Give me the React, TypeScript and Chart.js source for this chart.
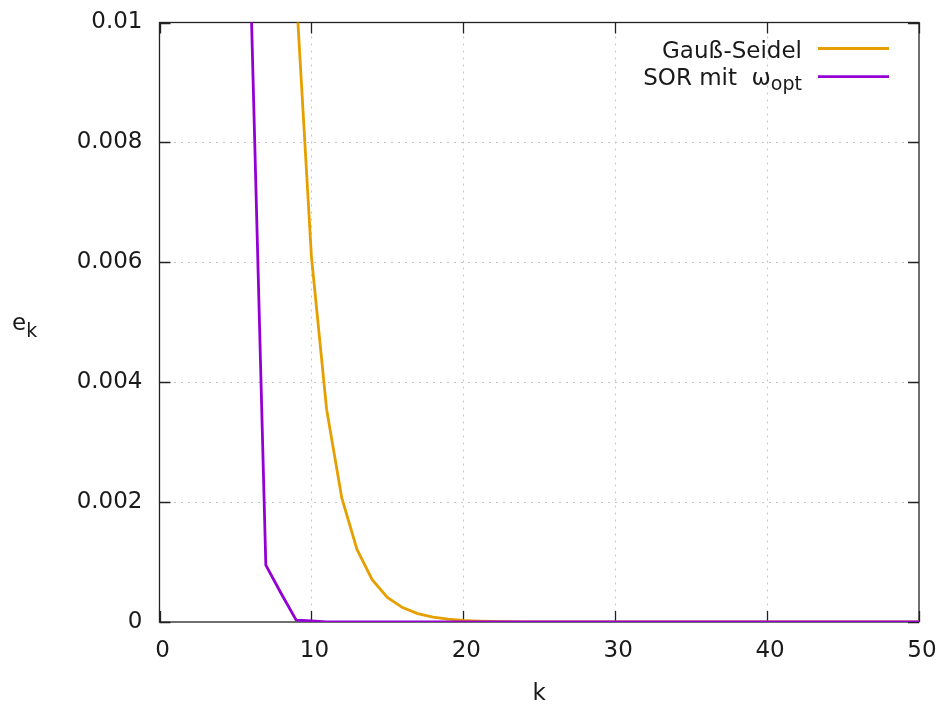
import React, { useEffect, useRef } from "react";
import { Chart, registerables } from "chart.js";

Chart.register(...registerables);

const kValues = [
  1, 2, 3, 4, 5, 6, 7, 8, 9, 10,
  11, 12, 13, 14, 15, 16, 17, 18, 19, 20,
  21, 22, 23, 24, 25, 26, 27, 28, 29, 30,
  31, 32, 33, 34, 35, 36, 37, 38, 39, 40,
  41, 42, 43, 44, 45, 46, 47, 48, 49, 50,
];

const gaussSeidel = [
  0.79, 0.46, 0.27, 0.157, 0.091, 0.053, 0.031, 0.018, 0.0105, 0.0061,
  0.00355, 0.00207, 0.00121, 0.000705, 0.00041, 0.00024, 0.00014, 0.00008, 0.000047, 0.000027,
  0.000016, 0.0000093, 0.0000054, 0.0000031, 0.0000018, 0.0000011, 6e-7, 3.6e-7, 2.1e-7, 1.2e-7,
  7e-8, 4e-8, 2.4e-8, 1.4e-8, 8e-9, 5e-9, 3e-9, 2e-9, 1e-9, 6e-10,
  3e-10, 2e-10, 1e-10, 7e-11, 4e-11, 2e-11, 1e-11, 8e-12, 5e-12, 3e-12,
];

const sorOpt = [
  0.9, 0.5, 0.25, 0.11, 0.042, 0.0106, 0.00095, 0.00048, 0.00003, 0.00002,
  0.000001, 5e-7, 2e-7, 1e-7, 5e-8, 2e-8, 1e-8, 5e-9, 2e-9, 1e-9,
  5e-10, 2e-10, 1e-10, 5e-11, 2e-11, 1e-11, 5e-12, 2e-12, 1e-12, 5e-13,
  2e-13, 1e-13, 5e-14, 2e-14, 1e-14, 5e-15, 2e-15, 1e-15, 5e-16, 2e-16,
  1e-16, 5e-17, 2e-17, 1e-17, 5e-18, 2e-18, 1e-18, 5e-19, 2e-19, 1e-19,
];

const xTickValues = [0, 10, 20, 30, 40, 50];
const xTickLabels = ["0", "10", "20", "30", "40", "50"];
const yTickValues = [0, 0.002, 0.004, 0.006, 0.008, 0.01];
const yTickLabels = ["0", "0.002", "0.004", "0.006", "0.008", "0.01"];

const seriesNames = ["Gauß-Seidel", "SOR mit  ω"];
const seriesSubscripts = ["", "opt"];
const xTitle = "k";
const yTitleMain = "e";
const yTitleSub = "k";

const COLOR_GS = "#e69f00";
const COLOR_SOR = "#9400d3";
const FONT = '"DejaVu Sans", "Liberation Sans", sans-serif';

const framePlugin = {
  id: "gnuFrame",
  beforeDatasetsDraw(chart: any) {
    const { ctx, chartArea: a, scales } = chart;
    ctx.save();
    ctx.strokeStyle = "#222222";
    ctx.lineWidth = 1.3;
    ctx.strokeRect(a.left, a.top, a.right - a.left, a.bottom - a.top);
    const tl = 11;
    ctx.beginPath();
    for (const v of xTickValues) {
      const px = Math.round(scales.x.getPixelForValue(v)) + 0.5;
      ctx.moveTo(px, a.bottom);
      ctx.lineTo(px, a.bottom - tl);
      ctx.moveTo(px, a.top);
      ctx.lineTo(px, a.top + tl);
    }
    for (const v of yTickValues) {
      const py = Math.round(scales.y.getPixelForValue(v)) + 0.5;
      ctx.moveTo(a.left, py);
      ctx.lineTo(a.left + tl, py);
      ctx.moveTo(a.right, py);
      ctx.lineTo(a.right - tl, py);
    }
    ctx.stroke();
    ctx.restore();
  },
  afterDraw(chart: any) {
    const { ctx, chartArea: a } = chart;
    ctx.save();
    const mainFont = `23px ${FONT}`;
    const subFont = `19px ${FONT}`;
    ctx.fillStyle = "#1a1a1a";
    ctx.textBaseline = "alphabetic";

    // legend
    const colors = [COLOR_GS, COLOR_SOR];
    const baselines = [a.top + 35, a.top + 62.5];
    const lineYs = [a.top + 26, a.top + 54.2];
    const textRight = a.right - 117;
    for (let i = 0; i < seriesNames.length; i++) {
      let right = textRight;
      if (seriesSubscripts[i]) {
        ctx.font = subFont;
        ctx.textAlign = "right";
        ctx.fillText(seriesSubscripts[i], right, baselines[i] + 4.5);
        right -= ctx.measureText(seriesSubscripts[i]).width;
      }
      ctx.font = mainFont;
      ctx.textAlign = "right";
      ctx.fillText(seriesNames[i], right, baselines[i]);
      ctx.strokeStyle = colors[i];
      ctx.lineWidth = 2.8;
      ctx.beginPath();
      ctx.moveTo(a.right - 101, lineYs[i]);
      ctx.lineTo(a.right - 30, lineYs[i]);
      ctx.stroke();
    }

    // x title
    ctx.font = mainFont;
    ctx.textAlign = "center";
    ctx.fillText(xTitle, (a.left + a.right) / 2, 700);

    // y title
    ctx.textAlign = "left";
    ctx.font = mainFont;
    ctx.fillText(yTitleMain, 12, 330);
    const w = ctx.measureText(yTitleMain).width;
    ctx.font = subFont;
    ctx.fillText(yTitleSub, 12 + w, 336.5);
    ctx.restore();
  },
};

function zeroPadding(scale: any) {
  scale.paddingTop = 0;
  scale.paddingBottom = 0;
  scale.paddingLeft = 0;
  scale.paddingRight = 0;
}

export default function App() {
  const canvasRef = useRef<HTMLCanvasElement | null>(null);

  useEffect(() => {
    document.body.style.margin = "0";
    const canvas = canvasRef.current;
    if (!canvas) return;
    Chart.defaults.font.family = FONT;
    Chart.defaults.font.size = 23;
    Chart.defaults.color = "#1a1a1a";

    const chart = new Chart(canvas, {
      type: "line",
      data: {
        datasets: [
          {
            label: seriesNames[0],
            data: kValues.map((k, i) => ({ x: k, y: gaussSeidel[i] })),
            borderColor: COLOR_GS,
            backgroundColor: COLOR_GS,
            borderWidth: 2.8,
            pointRadius: 0,
            tension: 0,
            order: 1,
          },
          {
            label: seriesNames[1] + seriesSubscripts[1],
            data: kValues.map((k, i) => ({ x: k, y: sorOpt[i] })),
            borderColor: COLOR_SOR,
            backgroundColor: COLOR_SOR,
            borderWidth: 2.8,
            pointRadius: 0,
            tension: 0,
            order: 0,
          },
        ],
      },
      options: {
        animation: false,
        responsive: false,
        maintainAspectRatio: false,
        layout: { padding: { top: 22.5, right: 22, left: 0, bottom: 0 } },
        plugins: {
          legend: { display: false },
          tooltip: { enabled: false },
          title: { display: false },
        },
        scales: {
          x: {
            type: "linear",
            min: 0,
            max: 50,
            afterBuildTicks: (scale: any) => {
              scale.ticks = xTickValues.map((v) => ({ value: v }));
            },
            afterFit: (scale: any) => {
              scale.height = 82;
              zeroPadding(scale);
            },
            ticks: {
              callback: (_v: any, i: number) => xTickLabels[i],
              padding: 15,
              labelOffset: 3,
              maxRotation: 0,
              autoSkip: false,
              font: { size: 23 },
            },
            grid: {
              drawTicks: false,
              lineWidth: 1,
              color: (c: any) =>
                c.tick && (c.tick.value === 0 || c.tick.value === 50) ? "rgba(0,0,0,0)" : "#c4c4c4",
            },
            border: { display: false, dash: [2, 5] },
          },
          y: {
            type: "linear",
            min: 0,
            max: 0.01,
            afterBuildTicks: (scale: any) => {
              scale.ticks = yTickValues.map((v) => ({ value: v }));
            },
            afterFit: (scale: any) => {
              scale.width = 159.5;
              zeroPadding(scale);
            },
            ticks: {
              callback: (_v: any, i: number) => yTickLabels[i],
              padding: 17,
              autoSkip: false,
              font: { size: 23 },
            },
            grid: {
              drawTicks: false,
              lineWidth: 1,
              color: (c: any) =>
                c.tick && (c.tick.value === 0 || c.tick.value === 0.01) ? "rgba(0,0,0,0)" : "#c4c4c4",
            },
            border: { display: false, dash: [2, 5] },
          },
        },
      },
      plugins: [framePlugin],
    });
    return () => chart.destroy();
  }, []);

  return (
    <canvas
      ref={canvasRef}
      width={941}
      height={704}
      style={{ display: "block", width: "941px", height: "704px" }}
    />
  );
}
